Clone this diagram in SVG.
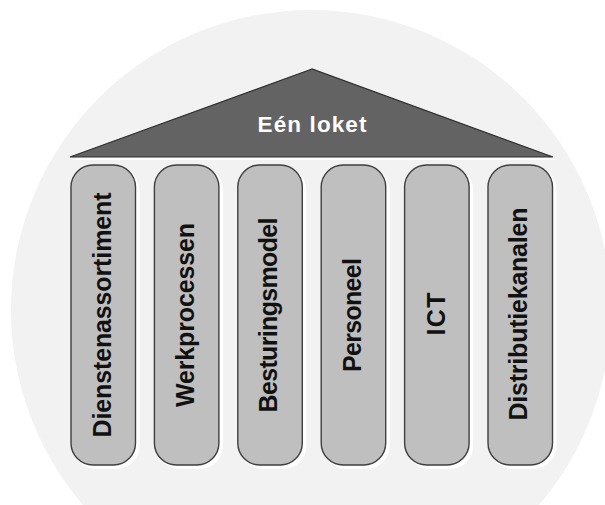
<svg xmlns="http://www.w3.org/2000/svg" width="605" height="505" viewBox="0 0 605 505">
  <style>
    .halo { fill: #ffffff; stroke: #ffffff; stroke-width: 2; }
    .pillar { fill: #bfbfbf; stroke: #3f3f3f; stroke-width: 1.4; }
    .label { font-family: "Liberation Sans", Arial, sans-serif; font-weight: bold; font-size: 25px; fill: #111111; text-anchor: middle; }
    .roof { fill: #636363; stroke: #2e2e2e; stroke-width: 1.2; stroke-linejoin: miter; }
    .roof-text { font-family: "Liberation Sans", Arial, sans-serif; font-weight: bold; font-size: 22.5px; fill: #ffffff; text-anchor: middle; }
  </style>

  <rect x="0" y="0" width="605" height="505" fill="#ffffff"/>
  <!-- backdrop disc -->
  <circle id="backdrop" cx="311" cy="310" r="300" fill="#f2f2f2"/>

  <!-- roof -->
  <g id="roof">
    <polygon points="315,72 73,160 556,160" fill="#ffffff"/>
    <polygon class="roof" points="312,69 70,157 553,157"/>
    <text class="roof-text" x="312" y="132" textLength="109" lengthAdjust="spacing">Eén loket</text>
  </g>

  <!-- pillars -->
  <g id="pillar-dienstenassortiment">
    <rect class="halo" x="74" y="168" width="64.5" height="300" rx="22"/>
    <rect class="pillar" x="71" y="165" width="64.5" height="300" rx="22"/>
    <text class="label" transform="translate(110.5,315) rotate(-90)" textLength="245" lengthAdjust="spacing">Dienstenassortiment</text>
  </g>
  <g id="pillar-werkprocessen">
    <rect class="halo" x="157.4" y="168" width="64.5" height="300" rx="22"/>
    <rect class="pillar" x="154.4" y="165" width="64.5" height="300" rx="22"/>
    <text class="label" transform="translate(193.5,315) rotate(-90)" textLength="184" lengthAdjust="spacing">Werkprocessen</text>
  </g>
  <g id="pillar-besturingsmodel">
    <rect class="halo" x="240.8" y="168" width="64.5" height="300" rx="22"/>
    <rect class="pillar" x="237.8" y="165" width="64.5" height="300" rx="22"/>
    <text class="label" transform="translate(277,315) rotate(-90)" textLength="195" lengthAdjust="spacing">Besturingsmodel</text>
  </g>
  <g id="pillar-personeel">
    <rect class="halo" x="324.2" y="168" width="64.5" height="300" rx="22"/>
    <rect class="pillar" x="321.2" y="165" width="64.5" height="300" rx="22"/>
    <text class="label" transform="translate(361,315) rotate(-90)" textLength="114" lengthAdjust="spacing">Personeel</text>
  </g>
  <g id="pillar-ict">
    <rect class="halo" x="407.6" y="168" width="64.5" height="300" rx="22"/>
    <rect class="pillar" x="404.6" y="165" width="64.5" height="300" rx="22"/>
    <text class="label" transform="translate(445,314) rotate(-90)" textLength="43" lengthAdjust="spacing">ICT</text>
  </g>
  <g id="pillar-distributiekanalen">
    <rect class="halo" x="491" y="168" width="64.5" height="300" rx="22"/>
    <rect class="pillar" x="488" y="165" width="64.5" height="300" rx="22"/>
    <text class="label" transform="translate(527,314) rotate(-90)" textLength="213" lengthAdjust="spacing">Distributiekanalen</text>
  </g>

  <g id="connectors"/>
</svg>
